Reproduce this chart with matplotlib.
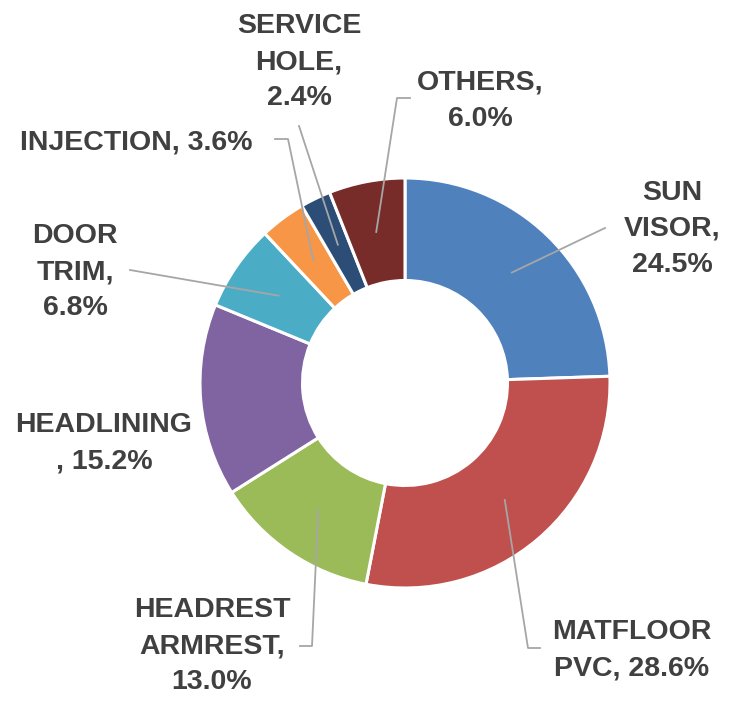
import numpy as np
import matplotlib
matplotlib.use("Agg")
import matplotlib.pyplot as plt

categories = ["SUN\nVISOR,", "MATFLOOR\nPVC,", "HEADREST\nARMREST,", "HEADLINING\n,",
              "DOOR\nTRIM,", "INJECTION,", "SERVICE\nHOLE,", "OTHERS,"]
values = [24.5, 28.6, 13.0, 15.2, 6.8, 3.6, 2.4, 6.0]
label_sep = ["\n", " ", "\n", " ", "\n", " ", "\n", "\n"]
colors = ["#4F81BD", "#C0504D", "#9BBB59", "#8064A2",
          "#4BACC6", "#F79646", "#2C4D75", "#772C2A"]

W, H = 736, 704
cx, cy, R = 405, H - 383, 205

# label centres and leader elbows (pixel coords, y from top)
label_pos = [(672, 229), (632, 650), (212, 646), (104, 443),
             (75, 272), (136, 143), (299, 62), (480, 101)]
leaders = [
    [(605, 228)],
    [(528, 648), (540, 648)],
    [(312, 646), (300, 646)],
    None,
    [(130, 270)],
    [(288, 139), (275, 139)],
    [(299, 126)],
    [(397, 98), (410, 98)],
]

fig = plt.figure(figsize=(W / 100, H / 100), dpi=100)
ax = fig.add_axes([0, 0, 1, 1])
wedges, _ = ax.pie(values, colors=colors, startangle=90, counterclock=False,
                   center=(cx, cy), radius=R,
                   wedgeprops=dict(width=R * 0.5, edgecolor="white", linewidth=2.2))
ax.set_xlim(0, W)
ax.set_ylim(0, H)
ax.set_aspect("equal")
ax.axis("off")

font = ["Liberation Sans Narrow", "Liberation Sans", "DejaVu Sans"]
for w, cat, val, sep, (lx, ly), pts in zip(wedges, categories, values, label_sep,
                                            label_pos, leaders):
    mid = np.deg2rad((w.theta1 + w.theta2) / 2)
    text = f"{cat}{sep}{val:.1f}%"
    ax.text(lx, H - ly, text, ha="center", va="center", fontsize=20.5,
            fontweight="bold", color="#404040", family=font, linespacing=1.52)
    if pts:
        xs = [cx + 0.75 * R * np.cos(mid)] + [p[0] for p in pts]
        ys = [cy + 0.75 * R * np.sin(mid)] + [H - p[1] for p in pts]
        ax.plot(xs, ys, color="#A6A6A6", lw=1.3)

fig.savefig("out.png", dpi=100)
